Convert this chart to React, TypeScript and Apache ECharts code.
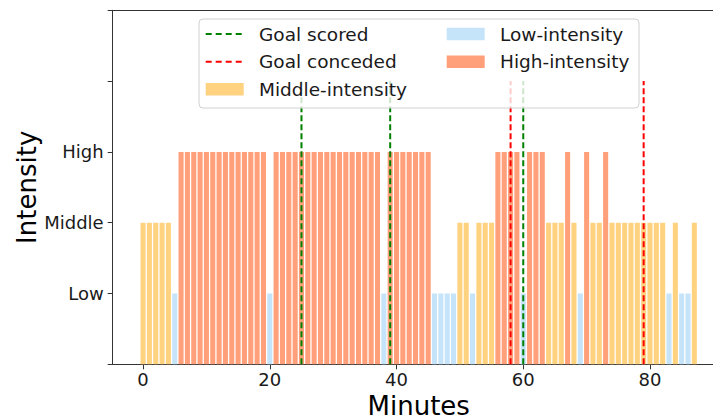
import React, { useEffect, useRef } from "react";
import * as echarts from "echarts";

const minutes = [
  0, 1, 2, 3, 4, 5, 6, 7, 8, 9, 10, 11, 12, 13, 14, 15, 16, 17, 18, 19,
  20, 21, 22, 23, 24, 25, 26, 27, 28, 29, 30, 31, 32, 33, 34, 35, 36, 37, 38, 39,
  40, 41, 42, 43, 44, 45, 46, 47, 48, 49, 50, 51, 52, 53, 54, 55, 56, 57, 58, 59,
  60, 61, 62, 63, 64, 65, 66, 67, 68, 69, 70, 71, 72, 73, 74, 75, 76, 77, 78, 79,
  80, 81, 82, 83, 84, 85, 86, 87,
];

// 1 = Low, 2 = Middle, 3 = High
const intensity = [
  2, 2, 2, 2, 2, 1, 3, 3, 3, 3, 3, 3, 3, 3, 3, 3, 3, 3, 3, 3,
  1, 3, 3, 3, 3, 3, 3, 3, 3, 3, 3, 3, 3, 3, 3, 3, 3, 3, 1, 3,
  3, 3, 3, 3, 3, 3, 1, 1, 1, 1, 2, 2, 1, 2, 2, 2, 3, 3, 3, 3,
  1, 3, 3, 3, 2, 2, 2, 3, 2, 1, 3, 2, 2, 3, 2, 2, 2, 2, 2, 2,
  2, 2, 2, 1, 2, 1, 1, 2,
];

const goalsScored = [25, 39, 60];
const goalsConceded = [58, 79];

const yTickLabels = ["", "Low", "Middle", "High", "", ""];
const xTicks = [0, 20, 40, 60, 80];

const levelNames = ["Low-intensity", "Middle-intensity", "High-intensity"];
const levelColors = ["#c5e4fa", "#ffd280", "#ffa07a"];

const FONT = '"DejaVu Sans", sans-serif';

export default function App() {
  const ref = useRef<HTMLDivElement>(null);

  useEffect(() => {
    if (!ref.current) return;
    const chart = echarts.init(ref.current, null, { renderer: "svg" });

    const barSeries = [1, 2, 3].map((lvl) => ({
      type: "bar",
      name: levelNames[lvl - 1],
      barWidth: 5.07,
      barGap: "-100%",
      itemStyle: { color: levelColors[lvl - 1] },
      data: minutes
        .map((m, i) => (intensity[i] === lvl ? [m, intensity[i]] : null))
        .filter((d) => d !== null),
      z: 2,
    }));

    const lineSeries = [
      ...goalsConceded.map((g) => ({
        type: "line",
        name: "Goal conceded",
        symbol: "none",
        lineStyle: { color: "#ff0000", width: 2, type: [6, 3] },
        data: [
          [g, 0],
          [g, 4],
        ],
        z: 3,
      })),
      ...goalsScored.map((g) => ({
        type: "line",
        name: "Goal scored",
        symbol: "none",
        lineStyle: { color: "#008000", width: 2, type: [6, 3] },
        data: [
          [g, 0],
          [g, 4],
        ],
        z: 3,
      })),
    ];

    const legendX1 = 205.7;
    const legendX2 = 446.7;
    const rows = [34, 61.7, 89.3];
    const textStyle = (text: string, x: number, y: number) => ({
      type: "text",
      z: 11,
      style: {
        text,
        x,
        y,
        font: `18.5px ${FONT}`,
        fill: "#1a1a1a",
        verticalAlign: "middle",
        align: "left",
      },
    });
    const patch = (x: number, y: number, color: string) => ({
      type: "rect",
      z: 11,
      shape: { x, y: y - 6.3, width: 38, height: 12.6 },
      style: { fill: color },
    });
    const dash = (x: number, y: number, color: string) => ({
      type: "line",
      z: 11,
      shape: { x1: x, y1: y, x2: x + 38, y2: y },
      style: { stroke: color, lineWidth: 2, lineDash: [6, 4] },
    });

    const option = {
      animation: false,
      grid: {
        left: 112.7,
        top: 10.3,
        width: 612,
        height: 354,
        containLabel: false,
        outerBoundsMode: "none",
      },
      xAxis: [
        {
          type: "value",
          min: -4.79,
          max: 91.79,
          name: "Minutes",
          nameLocation: "middle",
          nameGap: 25,
          nameTextStyle: { fontSize: 26, fontFamily: FONT, color: "#000" },
          axisLine: { show: true, onZero: false, lineStyle: { color: "#333", width: 1 } },
          axisTick: {
            show: true,
            length: 5,
            customValues: xTicks,
            lineStyle: { color: "#333" },
          },
          axisLabel: {
            customValues: xTicks,
            fontSize: 18,
            margin: 6,
            color: "#1a1a1a",
            fontFamily: FONT,
          },
          splitLine: { show: false },
        },
        {
          type: "value",
          position: "top",
          min: -4.79,
          max: 91.79,
          axisLine: { show: true, onZero: false, lineStyle: { color: "#333", width: 1 } },
          axisTick: { show: false },
          axisLabel: { show: false },
          splitLine: { show: false },
        },
      ],
      yAxis: {
        type: "value",
        min: 0,
        max: 5,
        interval: 1,
        name: "Intensity",
        nameLocation: "middle",
        nameGap: 73,
        nameRotate: 90,
        nameMoveOverlap: false,
        nameTextStyle: { fontSize: 26, fontFamily: FONT, color: "#000" },
        axisLine: { show: true, onZero: false, lineStyle: { color: "#333", width: 1 } },
        axisTick: { show: true, length: 5, lineStyle: { color: "#333" } },
        axisLabel: {
          fontSize: 18,
          margin: 9,
          color: "#1a1a1a",
          fontFamily: FONT,
          formatter: (v: number) => yTickLabels[Math.round(v)] ?? "",
        },
        splitLine: { show: false },
      },
      series: [...barSeries, ...lineSeries],
      graphic: [
        {
          type: "rect",
          z: 10,
          shape: { x: 199, y: 19, width: 440, height: 89, r: 4 },
          style: { fill: "rgba(255,255,255,0.8)", stroke: "#d0d0d0", lineWidth: 1 },
        },
        dash(legendX1, rows[0], "#008000"),
        textStyle("Goal scored", 259, rows[0]),
        dash(legendX1, rows[1], "#ff0000"),
        textStyle("Goal conceded", 259, rows[1]),
        patch(legendX1, rows[2], levelColors[1]),
        textStyle("Middle-intensity", 259, rows[2]),
        patch(legendX2, rows[0], levelColors[0]),
        textStyle("Low-intensity", 500, rows[0]),
        patch(legendX2, rows[1], levelColors[2]),
        textStyle("High-intensity", 500, rows[1]),
      ],
    };

    chart.setOption(option as any);
    return () => chart.dispose();
  }, []);

  return (
    <div
      ref={ref}
      style={{ position: "fixed", left: 0, top: 0, width: 713, height: 419, background: "#fff" }}
    />
  );
}
